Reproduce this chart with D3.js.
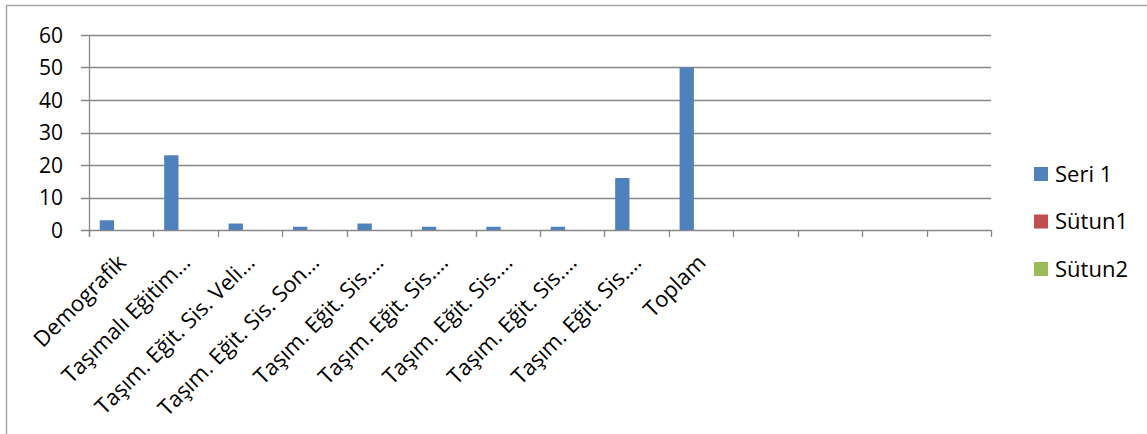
<!DOCTYPE html>
<html><head><meta charset="utf-8">
<script src="https://cdn.jsdelivr.net/npm/d3@7"></script>
<style>body{margin:0;background:#fff;} svg{display:block;}</style>
</head><body>
<svg id="c" width="1147" height="434"></svg>
<script>
const categories = ["Demografik","Taşımalı Eğitim…","Taşım. Eğit. Sis. Veli…","Taşım. Eğit. Sis. Son…","Taşım. Eğit. Sis.…","Taşım. Eğit. Sis.…","Taşım. Eğit. Sis.…","Taşım. Eğit. Sis.…","Taşım. Eğit. Sis.…","Toplam","","","",""];
const seri1 = [3,23,2,1,2,1,1,1,16,50,null,null,null,null];
const sutun1 = [null,null,null,null,null,null,null,null,null,null,null,null,null,null];
const sutun2 = [null,null,null,null,null,null,null,null,null,null,null,null,null,null];
const seriesNames = ["Seri 1","Sütun1","Sütun2"];
const seriesColors = ["#4F81BD","#C0504D","#9BBB59"];
const yTicks = [0,10,20,30,40,50,60];

const svg = d3.select("#c");
const font = "'Open Sans', sans-serif";
const L = 89, R = 991, T = 35, B = 230;
const keys = categories.map((_, i) => i);
const x = d3.scaleBand().domain(keys).range([L, R]);
const y = d3.scaleLinear().domain([0, 60]).range([B, T]);
const grid = "#878787";

// outer frame (left and top visible)
svg.append("path").attr("d", `M6.5,440V5.5H1150`).attr("fill","none").attr("stroke","#a6a6a6").attr("stroke-width",1.5);

// gridlines
svg.append("g").selectAll("line").data(yTicks).join("line")
  .attr("x1", L - 8).attr("x2", R)
  .attr("y1", d => Math.round(y(d)) + 0.5).attr("y2", d => Math.round(y(d)) + 0.5)
  .attr("stroke", grid).attr("stroke-width", 1.3);

// y axis labels
svg.append("g").selectAll("text").data(yTicks).join("text")
  .attr("x", 63).attr("y", d => y(d)).attr("dy", "0.36em")
  .attr("text-anchor", "end").attr("font-family", font).attr("font-size", 21).attr("fill", "#000")
  .text(d => d);

// bars
const inner = d3.scaleBand().domain([0,1,2]).range([0, x.bandwidth()]).paddingInner(0).paddingOuter(0.75);
const allSeries = [seri1, sutun1, sutun2];
allSeries.forEach((vals, s) => {
  svg.append("g").selectAll("rect").data(vals.map((v, i) => ({v, i})).filter(d => d.v != null)).join("rect")
    .attr("x", d => x(d.i) + inner(s))
    .attr("width", inner.bandwidth())
    .attr("y", d => y(d.v))
    .attr("height", d => y(0) - y(d.v))
    .attr("fill", seriesColors[s]);
});

// axes lines
svg.append("line").attr("x1", L + 0.5).attr("x2", L + 0.5).attr("y1", T).attr("y2", B + 7).attr("stroke", grid).attr("stroke-width", 1.3);
const bounds = keys.map(k => x(k)).concat([R]);
svg.append("g").selectAll("line").data(bounds).join("line")
  .attr("x1", d => Math.round(d) + 0.5).attr("x2", d => Math.round(d) + 0.5)
  .attr("y1", B).attr("y2", B + 7).attr("stroke", grid).attr("stroke-width", 1.3);

// category labels
svg.append("g").selectAll("text").data(keys).join("text")
  .attr("transform", d => `translate(${x(d) + x.bandwidth()/2 + 6},${B + 34}) rotate(-45)`)
  .attr("text-anchor", "end")
  .attr("font-family", font).attr("font-size", 22).attr("fill", "#000")
  .text(d => categories[d]);

// legend
const lg = svg.append("g");
seriesNames.forEach((n, i) => {
  const cy = 174 + i * 47.5;
  lg.append("rect").attr("x", 1034).attr("y", cy - 7).attr("width", 14).attr("height", 14).attr("fill", seriesColors[i]);
  lg.append("text").attr("x", 1055).attr("y", cy).attr("dy", "0.36em")
    .attr("font-family", font).attr("font-size", 22).attr("fill", "#000").text(n);
});
</script>
</body></html>
